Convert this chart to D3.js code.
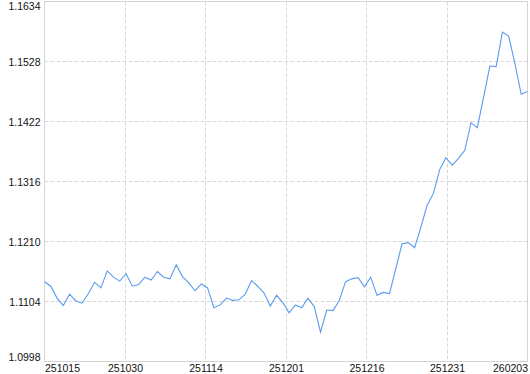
<!DOCTYPE html>
<html>
<head>
<meta charset="utf-8">
<script src="https://cdn.jsdelivr.net/npm/d3@7"></script>
<style>
body { margin: 0; background: #fff; }
svg { display: block; }
</style>
</head>
<body>
<script>
var values = [
  1.1139, 1.1131, 1.1110, 1.1097, 1.1117, 1.1105, 1.1101, 1.1118, 1.1138, 1.1128,
  1.1158, 1.1147, 1.1140, 1.1153, 1.1131, 1.1134, 1.1147, 1.1142, 1.1157, 1.1147,
  1.1144, 1.1169, 1.1148, 1.1137, 1.1123, 1.1135, 1.1128, 1.1093, 1.1098, 1.1110,
  1.1106, 1.1107, 1.1117, 1.1141, 1.1131, 1.1119, 1.1096, 1.1115, 1.1102, 1.1084,
  1.1098, 1.1093, 1.1110, 1.1095, 1.1050, 1.1089, 1.1088, 1.1106, 1.1139, 1.1144,
  1.1146, 1.1130, 1.1147, 1.1115, 1.1120, 1.1118, 1.1162, 1.1206, 1.1208, 1.1199,
  1.1235, 1.1274, 1.1295, 1.1337, 1.1358, 1.1345, 1.1357, 1.1371, 1.1420, 1.1411,
  1.1465, 1.1520, 1.1519, 1.1580, 1.1573, 1.1524, 1.1470, 1.1475
];

var xLabels = ['251015', '251030', '251114', '251201', '251216', '251231', '260203'];

var yTicks = [1.0998, 1.1104, 1.1210, 1.1316, 1.1422, 1.1528, 1.1634];

var width = 530;
var height = 374;
var margin = {left: 44, right: 3, top: 1, bottom: 13};
var w = width - margin.left - margin.right;
var h = height - margin.top - margin.bottom;

var x = d3.scaleLinear()
          .domain([0, values.length - 1])
          .range([0, w]);

var y = d3.scaleLinear()
          .domain([yTicks[0], yTicks[yTicks.length - 1]])
          .range([h, 0]);

// tick positions spread evenly over the index range
var xTicks = xLabels.map(function(d, i) { return i * (values.length - 1) / (xLabels.length - 1); });

var svg = d3.select("body").append("svg")
            .attr("width", width)
            .attr("height", height)
            .style("font-family", "'Liberation Sans', Arial, sans-serif");

var chartGroup = svg.append("g")
    .attr("transform", "translate(" + (margin.left + 0.5) + "," + (margin.top + 0.5) + ")");

// dashed grid
chartGroup.append("g").selectAll("line.hgrid")
    .data(yTicks.slice(1, -1))
    .enter().append("line")
    .attr("x1", 0).attr("x2", w)
    .attr("y1", function(d) { return Math.round(y(d)); })
    .attr("y2", function(d) { return Math.round(y(d)); })
    .attr("stroke", "#d9d9d9")
    .attr("stroke-dasharray", "4,2");

chartGroup.append("g").selectAll("line.vgrid")
    .data(xTicks.slice(1, -1))
    .enter().append("line")
    .attr("y1", 0).attr("y2", h)
    .attr("x1", function(d) { return Math.round(x(d)); })
    .attr("x2", function(d) { return Math.round(x(d)); })
    .attr("stroke", "#d9d9d9")
    .attr("stroke-dasharray", "4,2");

// frame
chartGroup.append("rect")
    .attr("x", 0).attr("y", 0)
    .attr("width", w).attr("height", h)
    .attr("fill", "none")
    .attr("stroke", "#d4d4d4");

var line = d3.line()
    .x(function(d, i) { return x(i); })
    .y(function(d) { return y(d); });

chartGroup.append("path")
    .attr("d", line(values))
    .attr("fill", "none")
    .attr("stroke", "#5a9bef")
    .attr("stroke-width", 1.1);

// y labels
var yAxis = d3.axisLeft(y).tickValues(yTicks).tickSize(0).tickPadding(4).tickFormat(d3.format(".4f"));
var yG = chartGroup.append("g").call(yAxis);
yG.select(".domain").remove();
yG.selectAll("text")
    .attr("fill", "#111")
    .style("font-size", "10.5px")
    .attr("dy", function(d, i) {
        if (i === 0) return "-0.05em";
        if (i === yTicks.length - 1) return "0.8em";
        return "0.42em";
    });

// x labels
var xAxis = d3.axisBottom(x).tickValues(xTicks).tickSize(0).tickPadding(3)
    .tickFormat(function(d, i) { return xLabels[i]; });
var xG = chartGroup.append("g").attr("transform", "translate(0," + h + ")").call(xAxis);
xG.select(".domain").remove();
xG.selectAll("text")
    .attr("fill", "#111")
    .style("font-size", "10.5px")
    .attr("text-anchor", function(d, i) {
        if (i === 0) return "start";
        if (i === xLabels.length - 1) return "end";
        return "middle";
    });
</script>
</body>
</html>
